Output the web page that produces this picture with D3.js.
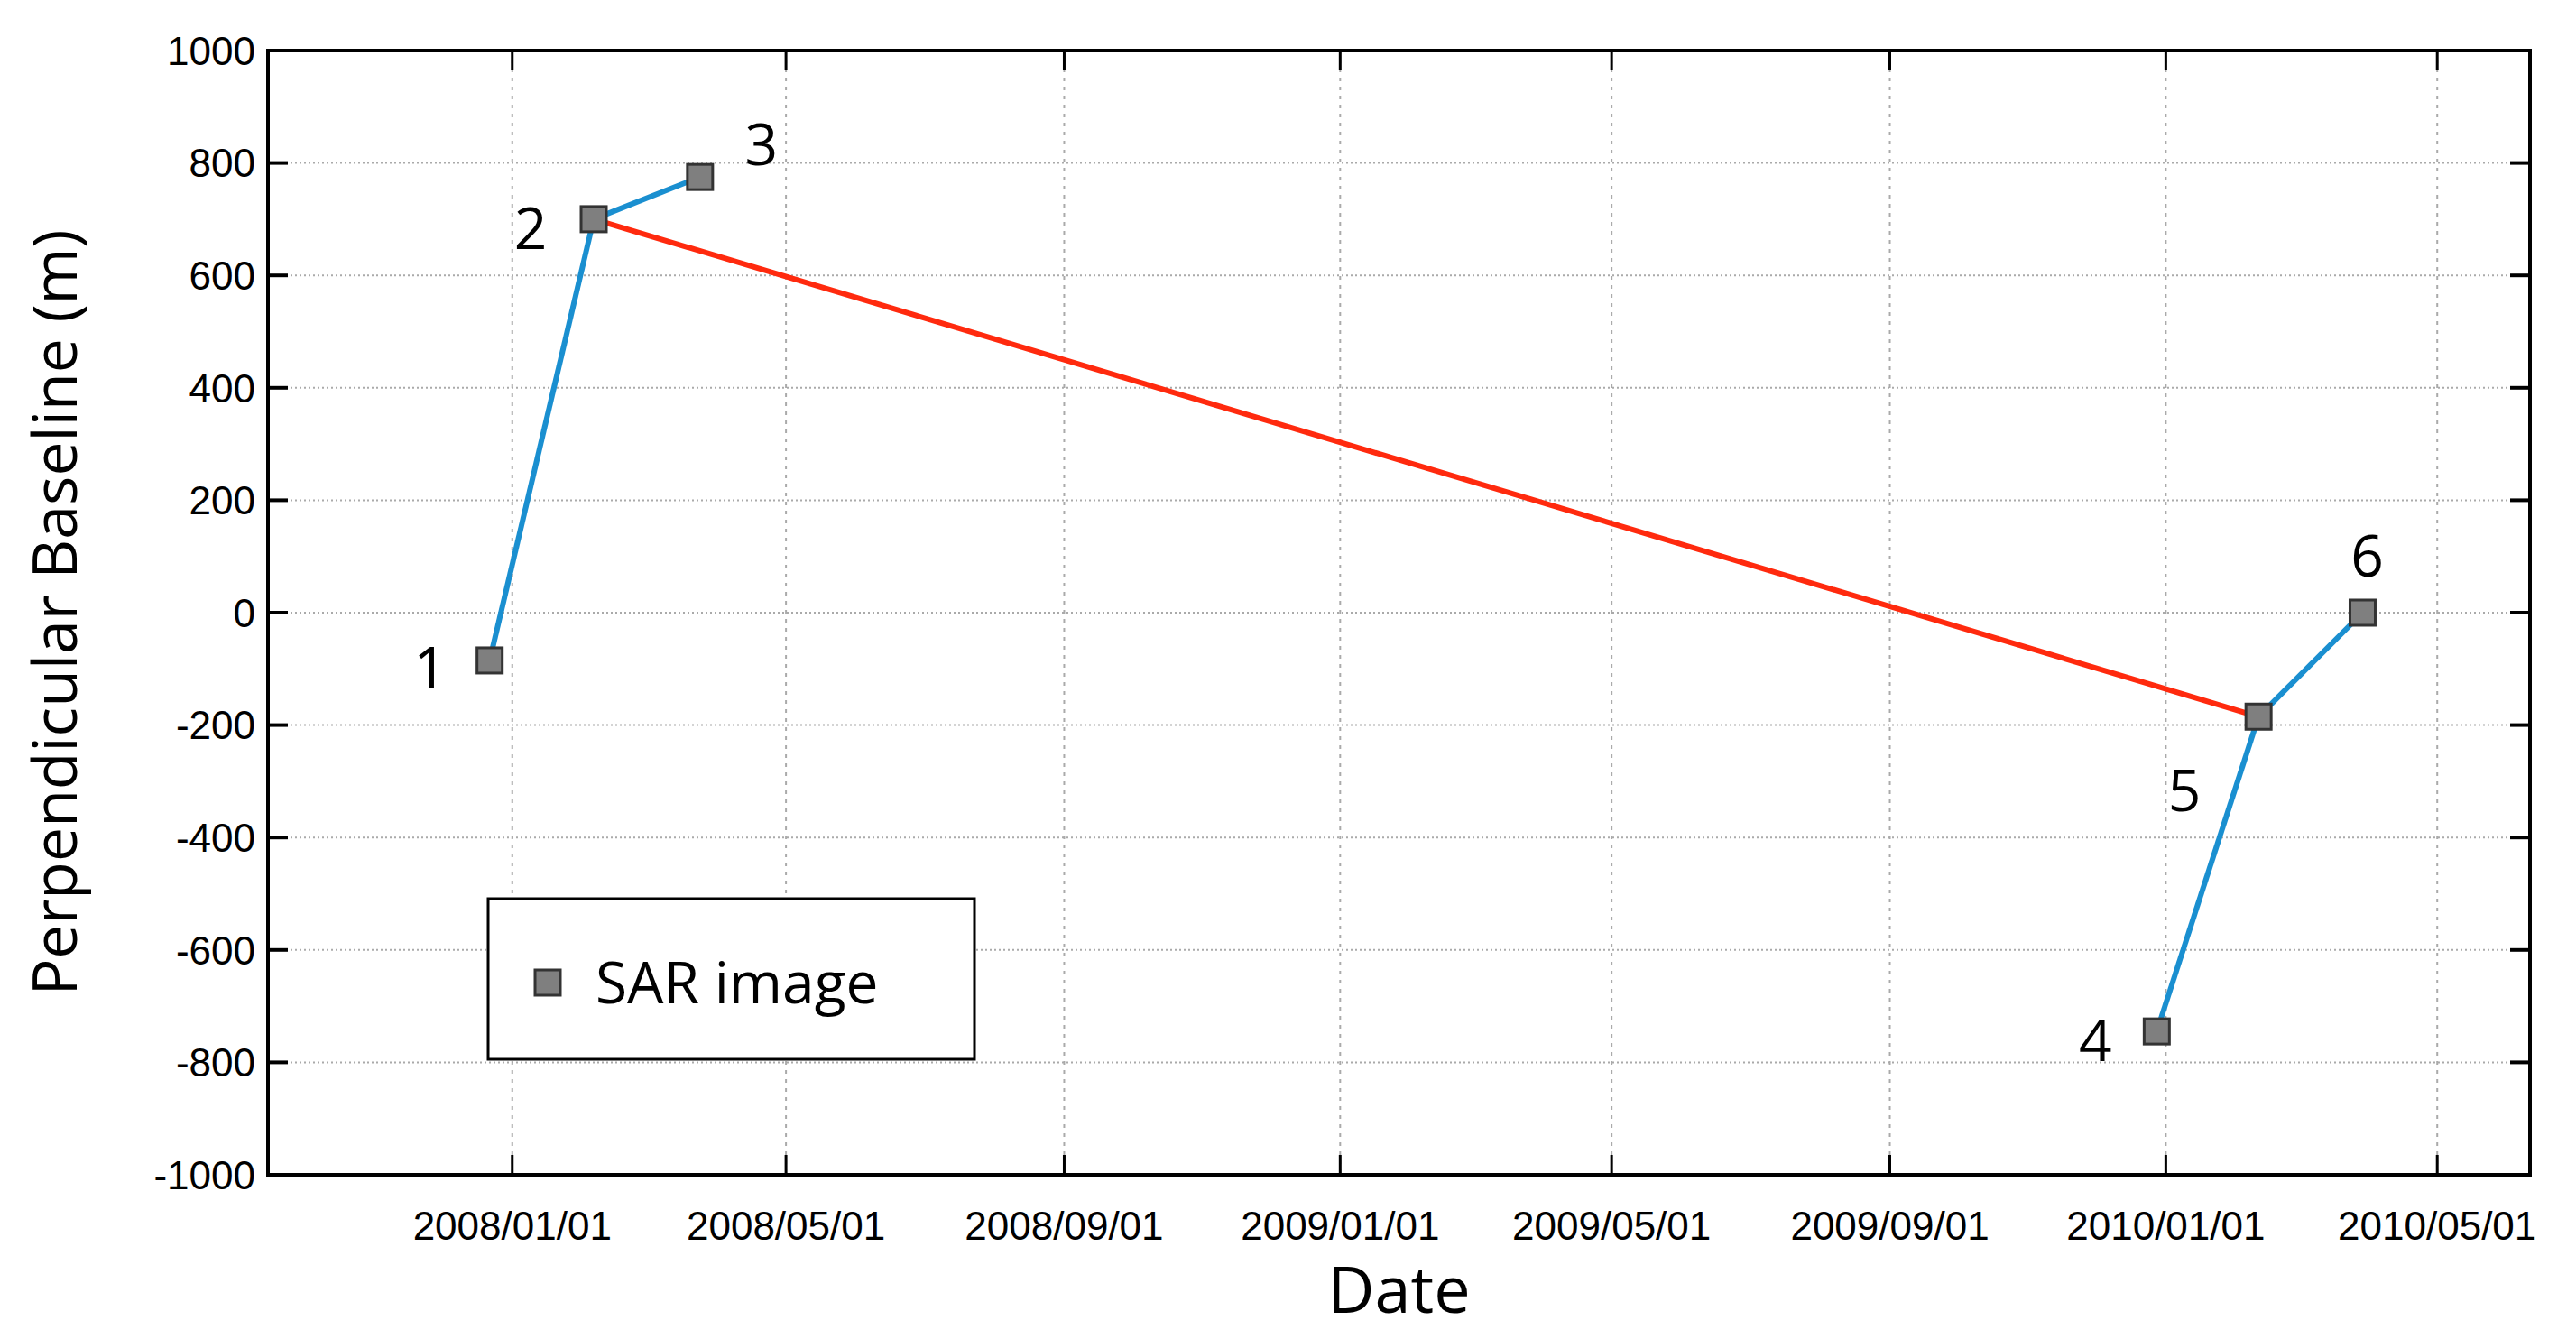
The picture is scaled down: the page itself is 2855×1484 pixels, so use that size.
<!DOCTYPE html>
<html><head><meta charset="utf-8">
<script src="https://cdn.jsdelivr.net/npm/d3@7"></script>
<style>body{margin:0;background:#fff}</style></head>
<body><svg id="c" width="2855" height="1484"></svg>
<script>
const xTicks = ["2008/01/01","2008/05/01","2008/09/01","2009/01/01","2009/05/01","2009/09/01","2010/01/01","2010/05/01"];
const yTicks = [-1000,-800,-600,-400,-200,0,200,400,600,800,1000];
const ids = ["1","2","3","4","5","6"];
const dates = ["2007/12/22","2008/02/06","2008/03/24","2009/12/28","2010/02/11","2010/03/29"];
const baselines = [-85,700,775,-745,-185,0];
const blueEdges = [[0,1],[1,2],[3,4],[4,5]];
const redEdges = [[1,4]];
const labelOffsets = [[-66,8],[-70,10],[68,-36],[-68,10],[-82,82],[5,-63]];

const p = d3.timeParse("%Y/%m/%d");
const W=2855,L=297,R=2804,T=56,B=1302;
const svg=d3.select("#c");
const x=d3.scaleTime().domain([p("2007/09/15"),p("2010/06/11")]).range([L,R]);
const y=d3.scaleLinear().domain([-1000,1000]).range([B,T]);
const tf="'Liberation Sans', Arial, sans-serif", lf="'Open Sans', sans-serif";
// grid
svg.append("g").selectAll("line").data(yTicks.slice(1,-1)).join("line")
 .attr("x1",L).attr("x2",R).attr("y1",d=>y(d)).attr("y2",d=>y(d))
 .attr("stroke","#aaa").attr("stroke-width",2).attr("stroke-dasharray","2,3");
svg.append("g").selectAll("line").data(xTicks).join("line")
 .attr("y1",T).attr("y2",B).attr("x1",d=>x(p(d))).attr("x2",d=>x(p(d)))
 .attr("stroke","#aaa").attr("stroke-width",2).attr("stroke-dasharray","4,6");
// ticks
const tl=22;
yTicks.forEach(v=>{
 svg.append("line").attr("x1",L).attr("x2",L+tl).attr("y1",y(v)).attr("y2",y(v)).attr("stroke","#000").attr("stroke-width",4);
 svg.append("line").attr("x1",R-tl).attr("x2",R).attr("y1",y(v)).attr("y2",y(v)).attr("stroke","#000").attr("stroke-width",4);
});
xTicks.forEach(d=>{
 svg.append("line").attr("x1",x(p(d))).attr("x2",x(p(d))).attr("y1",B).attr("y2",B-tl).attr("stroke","#000").attr("stroke-width",3);
 svg.append("line").attr("x1",x(p(d))).attr("x2",x(p(d))).attr("y1",T).attr("y2",T+tl).attr("stroke","#000").attr("stroke-width",3);
});
svg.append("rect").attr("x",L).attr("y",T).attr("width",R-L).attr("height",B-T).attr("fill","none").attr("stroke","#000").attr("stroke-width",4);
// tick labels
svg.append("g").selectAll("text").data(yTicks).join("text")
 .attr("x",L-14).attr("y",d=>y(d)).attr("dy","0.36em").attr("text-anchor","end")
 .attr("font-family",tf).attr("font-size",44).text(d=>d);
svg.append("g").selectAll("text").data(xTicks).join("text")
 .attr("x",d=>x(p(d))).attr("y",B+72).attr("text-anchor","middle")
 .attr("font-family",tf).attr("font-size",44).text(d=>d);
svg.append("text").attr("x",(L+R)/2).attr("y",1455).attr("text-anchor","middle").attr("font-family",lf).attr("font-size",72).text("Date");
svg.append("text").attr("transform",`translate(85,${(T+B)/2}) rotate(-90)`).attr("text-anchor","middle").attr("font-family",lf).attr("font-size",68).text("Perpendicular Baseline (m)");
// edges
const pt=i=>[x(p(dates[i])),y(baselines[i])];
svg.append("g").selectAll("line").data(blueEdges).join("line")
 .attr("x1",d=>pt(d[0])[0]).attr("y1",d=>pt(d[0])[1]).attr("x2",d=>pt(d[1])[0]).attr("y2",d=>pt(d[1])[1])
 .attr("stroke","#1a8fd0").attr("stroke-width",6);
svg.append("g").selectAll("line").data(redEdges).join("line")
 .attr("x1",d=>pt(d[0])[0]).attr("y1",d=>pt(d[0])[1]).attr("x2",d=>pt(d[1])[0]).attr("y2",d=>pt(d[1])[1])
 .attr("stroke","#ff2a0e").attr("stroke-width",6);
const s=28;
svg.append("g").selectAll("rect").data(ids).join("rect")
 .attr("x",(d,i)=>pt(i)[0]-s/2).attr("y",(d,i)=>pt(i)[1]-s/2).attr("width",s).attr("height",s)
 .attr("fill","#7f7f7f").attr("stroke","#333").attr("stroke-width",3);
svg.append("g").selectAll("text").data(ids).join("text")
 .attr("x",(d,i)=>pt(i)[0]+labelOffsets[i][0]).attr("y",(d,i)=>pt(i)[1]+labelOffsets[i][1])
 .attr("dy","0.36em").attr("text-anchor","middle").attr("font-family",lf).attr("font-size",64).text(d=>d);
// legend
svg.append("rect").attr("x",541).attr("y",996).attr("width",539).attr("height",178).attr("fill","#fff").attr("stroke","#000").attr("stroke-width",3);
svg.append("rect").attr("x",593).attr("y",1075).attr("width",s).attr("height",s).attr("fill","#7f7f7f").attr("stroke","#333").attr("stroke-width",3);
svg.append("text").attr("x",660).attr("y",1089).attr("dy","0.36em").attr("font-family",lf).attr("font-size",64).text("SAR image");
</script></body></html>
